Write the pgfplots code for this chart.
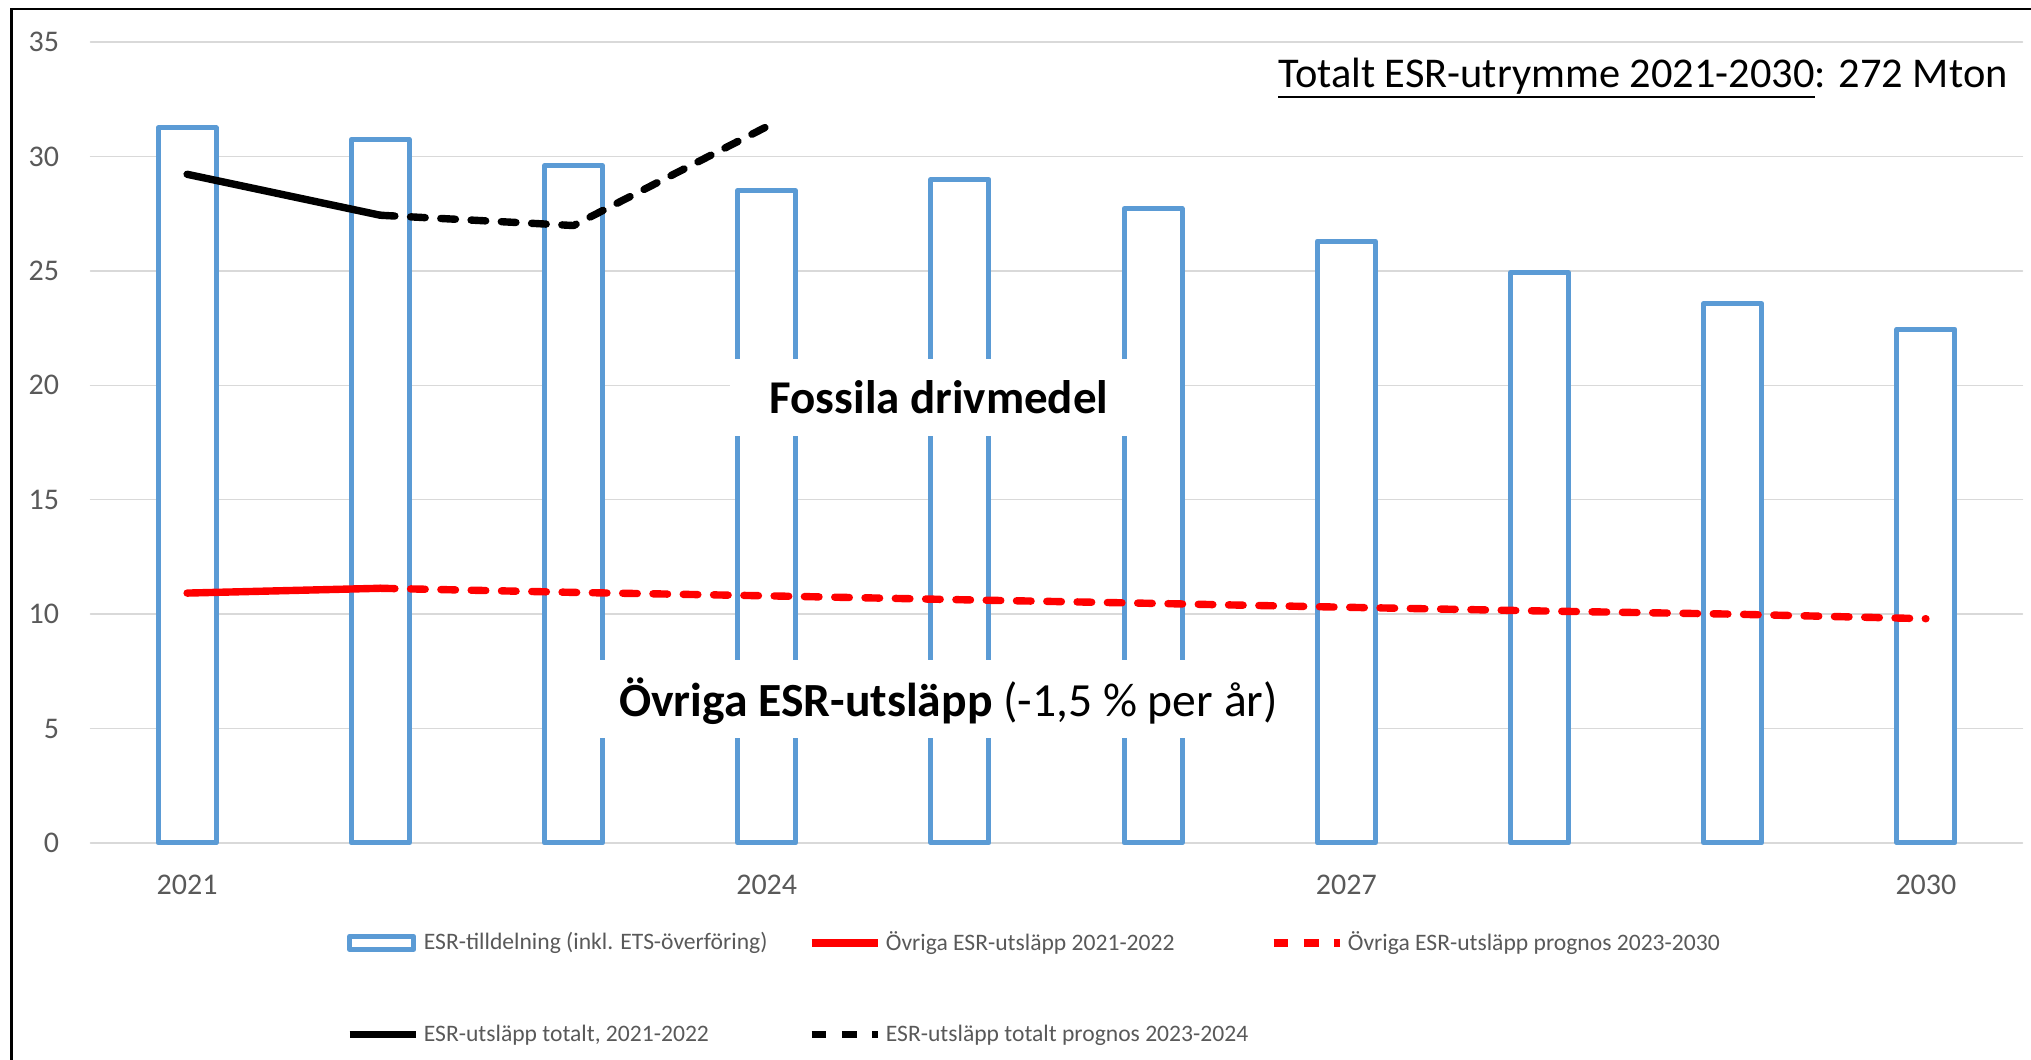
\documentclass[border=0pt]{standalone}
\usepackage{fontspec}
\setmainfont{Carlito}
\newsavebox{\ulbox}
\newcommand{\myul}[1]{\sbox{\ulbox}{#1}\rlap{\rule[-5.6pt]{\wd\ulbox}{1.1pt}}\usebox{\ulbox}}
\usepackage{pgfplots}
\pgfplotsset{compat=1.18}
\definecolor{barblue}{HTML}{5B9BD5}
\definecolor{gridgrey}{HTML}{D9D9D9}
\definecolor{txtgrey}{HTML}{595959}
\pgfplotsset{
  lineleg/.style={legend image code/.code={\draw[##1] (0pt,0pt) -- (33pt,0pt);}},
  barleg/.style={legend image code/.code={\draw[draw=barblue, line width=2.5pt, fill=white] (0pt,-3.3pt) rectangle (32pt,3.3pt);}},
}
\begin{document}
\begin{tikzpicture}
\path[use as bounding box] (0,0) rectangle (1015.5pt,530pt);
\begin{axis}[
  at={(45.25pt,108.5pt)}, anchor=south west,
  scale only axis, width=966pt, height=400.5pt,
  xmin=2020.5, xmax=2030.5, ymin=0, ymax=35,
  xtick={2021,2024,2027,2030}, ytick={0,5,...,35},
  /pgf/number format/1000 sep={},
  /pgf/number format/assume math mode=true,
  axis line style={draw=none}, major tick length=0pt, tick style={draw=none},
  ymajorgrids, grid style={draw=gridgrey, line width=0.7pt},
  tick label style={font=\fontsize{15}{17}\selectfont, text=txtgrey},
  xticklabel style={anchor=center, yshift=-20.75pt},
  yticklabel style={anchor=east, inner sep=0pt, xshift=-15.5pt},
  clip=false,
  legend style={
    at={(0.1322,-0.1110)}, anchor=north west,
    draw=none, fill=none, inner sep=0pt, outer sep=0pt,
    font=\fontsize{11.8}{13}\selectfont, text=txtgrey,
    /tikz/every odd column/.style={column sep=2.3pt},
    row sep=35.5pt,
    nodes={inner sep=0pt},
  },
  legend columns=3,
  legend cell align=left,
  line cap=round, line join=round,
]
\addplot[ybar, bar width=0.3, draw=barblue, fill=white, line width=2.5pt, barleg]
  coordinates {(2021,31.25) (2022,30.75) (2023,29.6) (2024,28.5) (2025,29.0) (2026,27.72) (2027,26.3) (2028,24.93) (2029,23.57) (2030,22.45)};
\addlegendentry{\makebox[192pt][l]{ESR-tilldelning (inkl. ETS-överföring)}}
\addplot[red, line width=3.7pt, lineleg]
  coordinates {(2021,10.92) (2022,11.13)};
\addlegendentry{\makebox[192pt][l]{Övriga ESR-utsläpp 2021-2022}}
\addplot[red, line width=3.7pt, dash pattern=on 7.3pt off 7.85pt, lineleg]
  coordinates {(2022,11.13) (2023,10.95) (2024,10.8) (2025,10.63) (2026,10.47) (2027,10.3) (2028,10.14) (2029,10.0) (2030,9.8)};
\addlegendentry{\makebox[192pt][l]{Övriga ESR-utsläpp prognos 2023-2030}}
\addplot[black, line width=3.7pt, lineleg]
  coordinates {(2021,29.22) (2022,27.43)};
\addlegendentry{\makebox[192pt][l]{ESR-utsläpp totalt, 2021-2022}}
\addplot[black, line width=3.7pt, dash pattern=on 7.3pt off 7.85pt, lineleg]
  coordinates {(2022,27.43) (2023,26.98) (2024,31.3)};
\addlegendentry{\makebox[192pt][l]{ESR-utsläpp totalt prognos 2023-2024}}
\end{axis}
\draw[line width=1.3pt] (5.6pt,-10pt) -- (5.6pt,525.5pt) -- (1030pt,525.5pt);
\fill[white] (365pt,312pt) rectangle (590pt,350.5pt);
\node[anchor=base, inner sep=0pt, font=\fontsize{23.5}{28}\selectfont\bfseries] at (469.5pt,323.35pt) {Fossila drivmedel};
\fill[white] (299pt,161pt) rectangle (657.5pt,200pt);
\node[anchor=base, inner sep=0pt, font=\fontsize{23.8}{28}\selectfont] at (474.25pt,171.67pt) {\textbf{Övriga ESR-utsläpp} (-1,5 \% per år)};
\node[anchor=base east, inner sep=0pt, font=\fontsize{21.2}{25}\selectfont] at (1004pt,486.4pt) {\myul{Totalt ESR-utrymme 2021-2030}: 272 Mton};
\end{tikzpicture}
\end{document}
